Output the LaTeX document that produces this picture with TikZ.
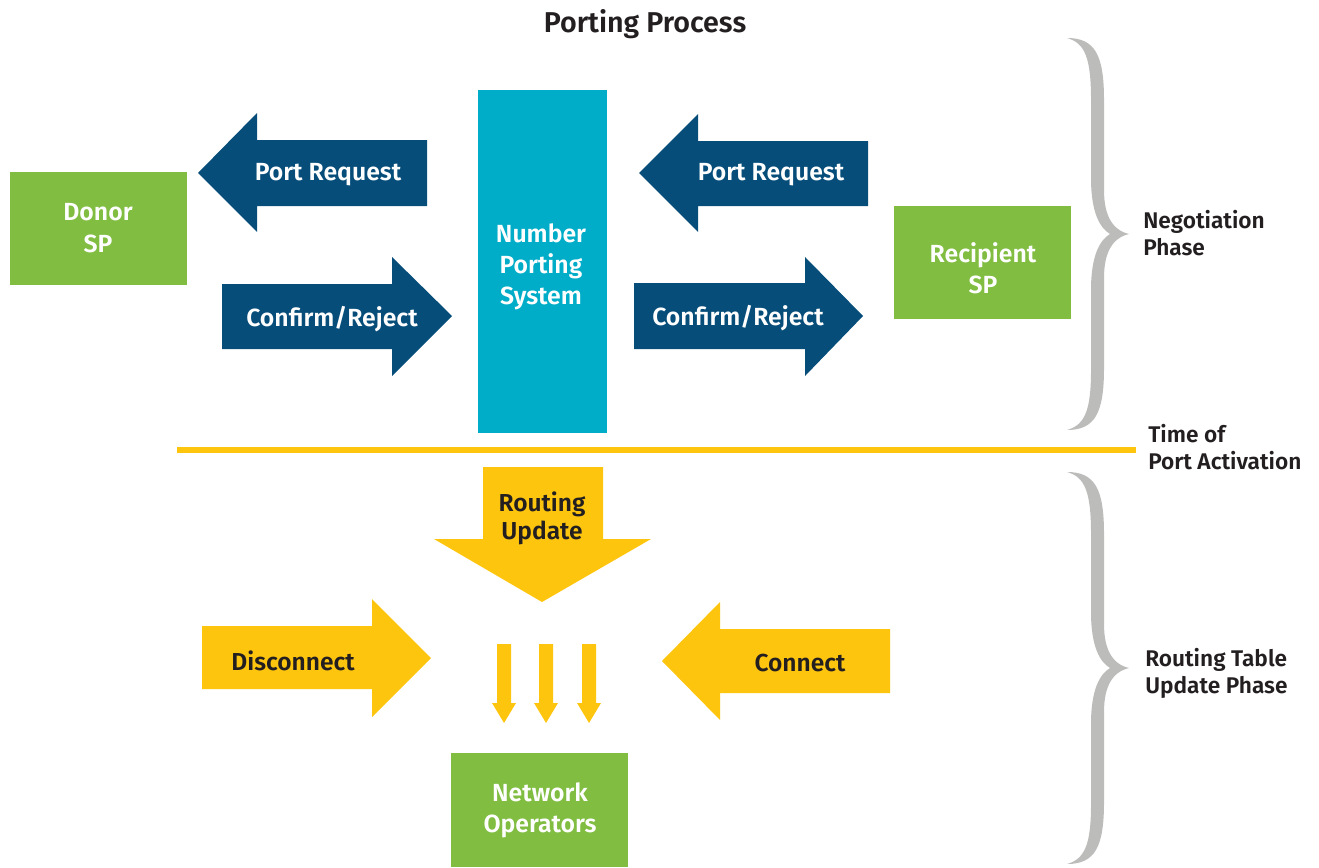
\documentclass[tikz,border=0pt]{standalone}
\usepackage{fontspec}
\setmainfont{Fira Sans}[BoldFont={Fira Sans SemiBold}]
\definecolor{dgreen}{HTML}{80BD41}
\definecolor{navy}{HTML}{064D7A}
\definecolor{cyanbox}{HTML}{00ADC8}
\definecolor{yel}{HTML}{FEC50F}
\definecolor{bracegray}{HTML}{BCBCBB}
\definecolor{ink}{HTML}{231F20}
\tikzset{
  boxtxt/.style={text=white,font=\bfseries\fontsize{18.6}{23.5}\selectfont,align=center,inner sep=0pt},
  navytxt/.style={text=white,font=\bfseries\fontsize{18.6}{23.5}\selectfont,inner sep=0pt},
  yeltxt/.style={text=ink,font=\bfseries\fontsize{18.4}{21}\selectfont,align=center,inner sep=0pt},
  sidetxt/.style={text=ink,font=\bfseries\fontsize{17}{20.3}\selectfont,align=left,inner sep=0pt,anchor=west},
  bracepic/.pic={
    \fill[bracegray] (0,0) .. controls (28,0) and (37,17) .. (37,62) -- (37,152)
      .. controls (37,177) and (45,192) .. (62,196)
      .. controls (45,200) and (37,215) .. (37,240) -- (37,330)
      .. controls (37,375) and (28,392) .. (0,392)
      .. controls (18,387) and (24,372) .. (24,332) -- (24,252)
      .. controls (24,217) and (33,202) .. (43,196)
      .. controls (33,190) and (24,175) .. (24,140) -- (24,62)
      .. controls (24,20) and (18,5) .. (0,0) -- cycle;
  }
}
\begin{document}
\begin{tikzpicture}[x=0.75pt,y=-0.75pt]
\useasboundingbox (0,0) rectangle (1319,867);
% title
\node[text=ink,font=\bfseries\fontsize{21.5}{24}\selectfont,inner sep=0pt] (title) at (645,24) {Porting Process};
% boxes
\fill[dgreen] (10,172) rectangle (187,285);
\node[boxtxt] (donor) at (98,228) {Donor\\SP};
\fill[cyanbox] (478,90) rectangle (607,433);
\node[boxtxt] (nps) at (541,267) {Number\\Porting\\System};
\fill[dgreen] (894,206) rectangle (1071,319);
\node[boxtxt] (recip) at (983,268.5) {Recipient\\SP};
\fill[dgreen] (451,753) rectangle (628,867);
\node[boxtxt] (netop) at (540,810.5) {Network\\Operators};
% navy arrows
\fill[navy] (198,173) -- (257,113) -- (257,140) -- (427,140) -- (427,206) -- (257,206) -- (257,232) -- cycle;
\node[navytxt] (prl) at (328,175) {Port Request};
\fill[navy] (222,284) -- (392,284) -- (392,257) -- (452,316) -- (392,376) -- (392,349) -- (222,349) -- cycle;
\node[navytxt] (crl) at (332,319) {Confirm/Reject};
\fill[navy] (639,173) -- (698,114) -- (698,141) -- (868,141) -- (868,206) -- (698,206) -- (698,232) -- cycle;
\node[navytxt] (prr) at (771,175) {Port Request};
\fill[navy] (634,283) -- (805,283) -- (805,257) -- (863,316) -- (805,376) -- (805,349) -- (634,349) -- cycle;
\node[navytxt] (crr) at (738,318) {Confirm/Reject};
% activation line
\fill[yel] (177,447) rectangle (1136,453);
% yellow arrows
\fill[yel] (483,467) -- (603,467) -- (603,539) -- (651,539) -- (542,602) -- (434,539) -- (483,539) -- cycle;
\node[yeltxt] (ru) at (542,518) {Routing\\Update};
\fill[yel] (202,626) -- (372,626) -- (372,599) -- (431,658) -- (372,717) -- (372,689) -- (202,689) -- cycle;
\node[yeltxt] (disc) at (293,661) {Disconnect};
\fill[yel] (662,661) -- (720,602) -- (720,629) -- (890,629) -- (890,693) -- (720,693) -- (720,720) -- cycle;
\node[yeltxt] (conn) at (800,663) {Connect};
\foreach \cx in {504,546,589}{
  \fill[yel] (\cx-7,644) -- (\cx+7,644) -- (\cx+7,703) -- (\cx+12,703) -- (\cx,723) -- (\cx-12,703) -- (\cx-7,703) -- cycle;
}
% braces
\pic at (1067,38) {bracepic};
\pic at (1067,472) {bracepic};
\node[sidetxt] (neg) at (1143,233.5) {Negotiation\\Phase};
\node[sidetxt] (toa) at (1148,447.5) {Time of\\Port Activation};
\node[sidetxt] (rtu) at (1145,673.5) {Routing Table\\Update Phase};
\end{tikzpicture}
\end{document}
